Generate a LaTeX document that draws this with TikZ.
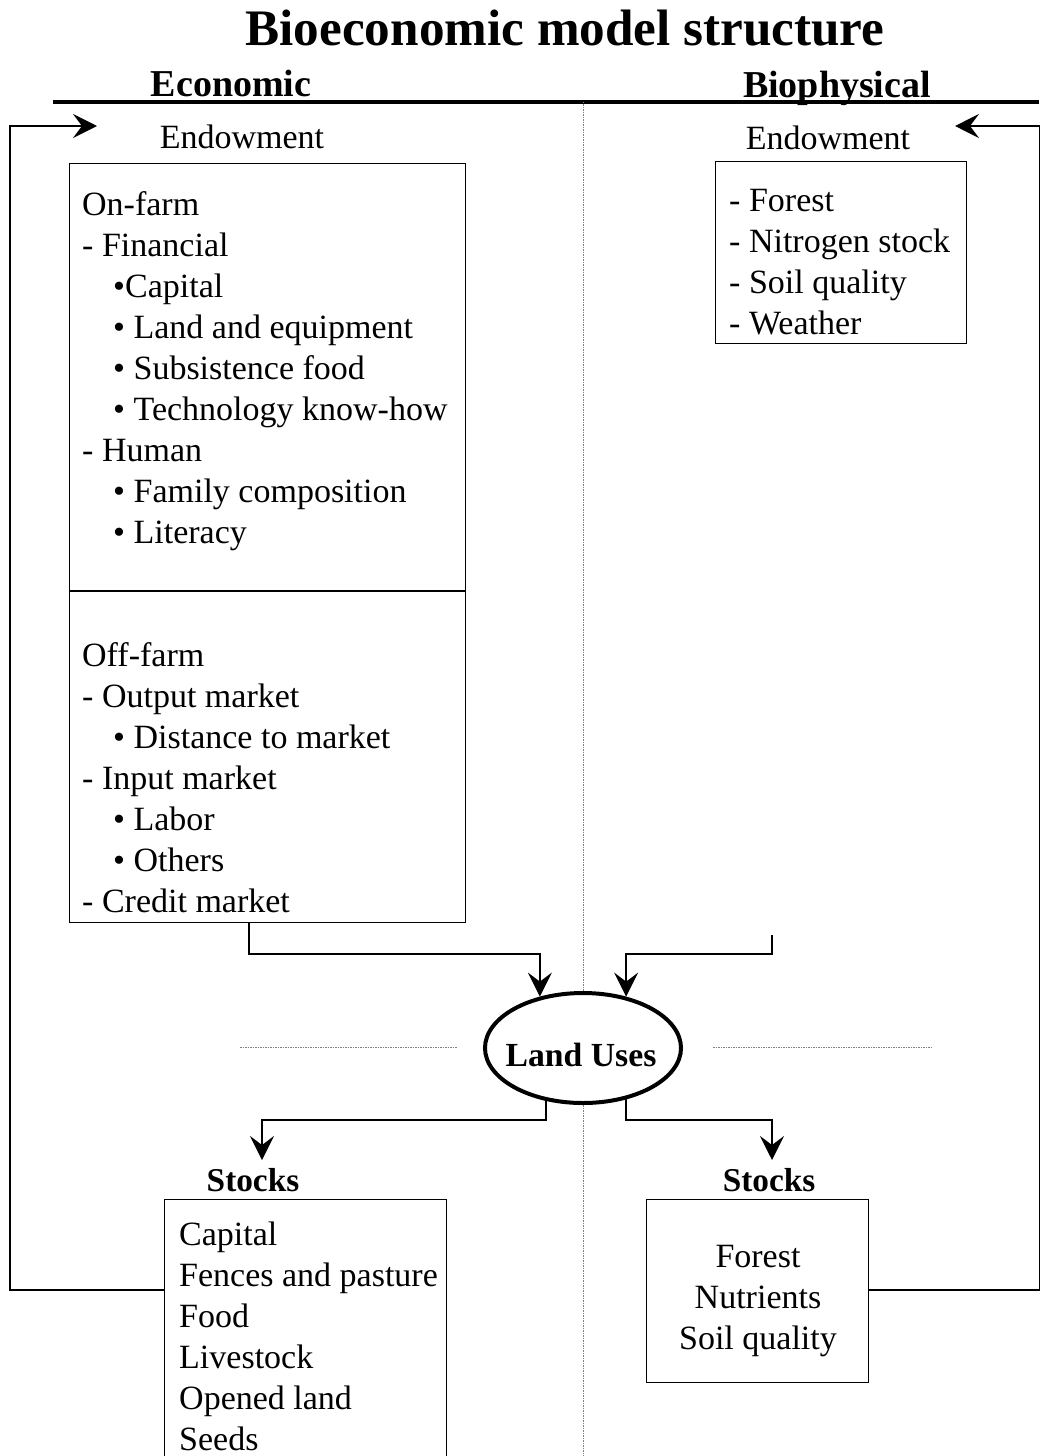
\documentclass[tikz,border=0pt]{standalone}
\usepackage{fontspec}
\setmainfont{Liberation Serif}
\usetikzlibrary{arrows.meta,shapes.geometric}
\begin{document}
\begin{tikzpicture}[x=1pt,y=-1pt,
  txt/.style={inner sep=0pt,font=\fontsize{34}{41}\selectfont,align=left},
  hdr/.style={inner sep=0pt,font=\fontsize{38}{44}\selectfont\bfseries},
  sub/.style={inner sep=0pt,font=\fontsize{33.3}{40}\selectfont\bfseries},
  boxed/.style={draw,line width=1.3pt,inner sep=0pt,anchor=north west},
  arr/.style={line width=1.4pt,-{Stealth[length=24pt,width=24pt,inset=9pt]}},
  dotl/.style={gray,line width=0.8pt,dash pattern=on 1.5pt off 1pt}]
\useasboundingbox (0,0) rectangle (1039,1456);
% title and headers
\node[inner sep=0pt,font=\fontsize{51.2}{60}\selectfont\bfseries,anchor=base] (title) at (565,45) {Bioeconomic model structure};
\node[hdr,anchor=base] (econ) at (231,96) {Economic};
\node[hdr,anchor=base] (bio) at (837,97) {Biophysical};
\draw[line width=4pt] (53,101.5) -- (1039,101.5);
% vertical dotted divider
\coordinate (vtop) at (583,101.5);
\coordinate (vbot) at (583,1456);
% Endowment labels
\node[txt,anchor=base] (endL) at (242,148) {Endowment};
\node[txt,anchor=base] (endR) at (828,149) {Endowment};
% left endowment box
\node[boxed,minimum width=396pt,minimum height=759pt] (ebox) at (69,163) {};
\draw[line width=1.3pt] (ebox.west |- 0,591) -- (ebox.east |- 0,591);
\node[txt,anchor=north west] (onf) at (82,186.3) {\strut On-farm\\
- Financial\\
\hspace*{31pt}•Capital\\
\hspace*{31pt}• Land and equipment\\
\hspace*{31pt}• Subsistence food\\
\hspace*{31pt}• Technology know-how\\
- Human\\
\hspace*{31pt}• Family composition\\
\hspace*{31pt}• Literacy};
\node[txt,anchor=north west] (offf) at (82,637.3) {\strut Off-farm\\
- Output market\\
\hspace*{31pt}• Distance to market\\
- Input market\\
\hspace*{31pt}• Labor\\
\hspace*{31pt}• Others\\
- Credit market};
% right endowment box
\node[boxed,minimum width=251pt,minimum height=182pt] (rbox) at (715,161) {};
\node[txt,anchor=north west] (rtxt) at (729,182.3) {\strut - Forest\\
- Nitrogen stock\\
- Soil quality\\
- Weather};
% Land uses
\node[draw,ellipse,line width=4pt,minimum width=196pt,minimum height=110pt,inner sep=0pt] (lu) at (583,1048) {};
\node[inner sep=0pt,font=\fontsize{33.7}{40}\selectfont\bfseries,anchor=base] (lut) at (581,1066) {Land Uses};
\draw[dotl] (vtop) -- (lu.north);
\draw[dotl] (lu.south) -- (vbot);
\draw[dotl] (240,1047) -- (457,1047);
\draw[dotl] (713,1047) -- (933,1047);
% stocks
\node[sub,anchor=base] (stL) at (253,1191) {Stocks};
\node[sub,anchor=base] (stR) at (769,1191) {Stocks};
\node[boxed,minimum width=282pt,minimum height=258pt] (sbL) at (164,1199) {};
\node[txt,anchor=north west] (sLtxt) at (179,1216.3) {\strut Capital\\
Fences and pasture\\
Food\\
Livestock\\
Opened land\\
Seeds};
\node[boxed,minimum width=222pt,minimum height=183pt] (sbR) at (646,1199) {};
\node[txt,anchor=north,align=center] (sRtxt) at (758,1238.3) {\strut Forest\\
Nutrients\\
Soil quality};
% connectors into land uses
\coordinate (c1) at (249,954);
\coordinate (r1) at (772,935);
\coordinate (r2) at (772,954);
\draw[arr] (ebox.south -| c1) -- (c1) -| (lu.130);
\draw[arr] (r1) -- (r2) -| (lu.50);
% connectors out of land uses
\coordinate (b1) at (262,1120);
\coordinate (b2) at (772,1120);
\draw[arr] (lu.235) |- (b1) -- (b1 |- 0,1160);
\draw[arr] (lu.310) |- (b2) -- (b2 |- 0,1160);
% feedback loops
\coordinate (fl1) at (10,1290);
\coordinate (fl2) at (10,126);
\coordinate (fl3) at (97,126);
\draw[arr] (sbL.west |- fl1) -- (fl1) -- (fl2) -- (fl3);
\coordinate (fr1) at (1039.5,1290);
\coordinate (fr2) at (1039.5,126);
\coordinate (fr3) at (955,126);
\draw[arr] (sbR.east |- fr1) -- (fr1) -- (fr2) -- (fr3);
\end{tikzpicture}
\end{document}
